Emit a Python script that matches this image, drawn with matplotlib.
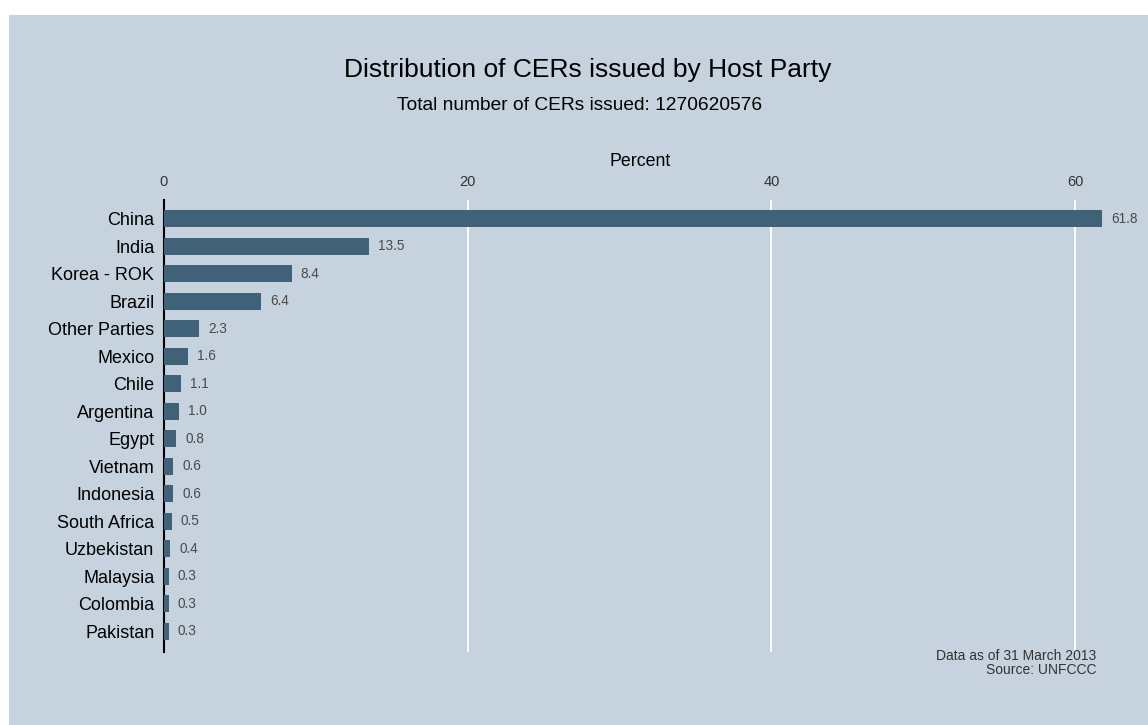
import numpy as np
import matplotlib
matplotlib.use("Agg")
from matplotlib import pyplot as plt

plt.rcParams['font.family'] = ['Liberation Sans', 'DejaVu Sans']

parties = ["China", "India", "Korea - ROK", "Brazil", "Other Parties", "Mexico",
           "Chile", "Argentina", "Egypt", "Vietnam", "Indonesia", "South Africa",
           "Uzbekistan", "Malaysia", "Colombia", "Pakistan"]
percent = [61.8, 13.5, 8.4, 6.4, 2.3, 1.6, 1.1, 1.0, 0.8, 0.6, 0.6, 0.5, 0.4, 0.3, 0.3, 0.3]
total_cers = 1270620576
x_ticks = [0, 20, 40, 60]

bg = "#c6d2de"
bar_color = "#3f6279"

fig = plt.figure(figsize=(11.48, 7.25), dpi=100)
fig.patch.set_facecolor("white")
# coloured panel behind everything
fig.patches.append(plt.Rectangle((9 / 1148, 0), 1, 1 - 15 / 725,
                                 transform=fig.transFigure, facecolor=bg,
                                 edgecolor="none", zorder=-1))

ax = fig.add_axes([164 / 1148, 1 - 652 / 725, (1116 - 164) / 1148, (652 - 200) / 725])
ax.set_facecolor(bg)

y = np.arange(len(parties))[::-1]
ax.barh(y, percent, height=0.62, color=bar_color, zorder=3)
for yi, v in zip(y, percent):
    ax.text(v + 0.6, yi, "{:.1f}".format(v), va="center", ha="left",
            fontsize=9.8, color="#4a4a4a")

ax.set_ylim(-0.76, len(parties) - 1 + 0.69)
ax.set_xlim(0, 62.7)
ax.set_yticks(y)
ax.set_yticklabels(parties, fontsize=13)
ax.set_xticks(x_ticks)
ax.xaxis.tick_top()
ax.xaxis.set_label_position("top")
ax.set_xlabel("Percent", fontsize=12.8, labelpad=6.5)
ax.tick_params(axis="x", length=0, labelsize=10.5, labelcolor="#333333", pad=8)
ax.tick_params(axis="y", length=0, pad=7)
ax.grid(axis="x", color="white", linewidth=1.3, zorder=0)
for s in ["top", "right", "bottom"]:
    ax.spines[s].set_visible(False)
ax.spines["left"].set_linewidth(1.5)

fig.text(588 / 1148, 1 - 70 / 725, "Distribution of CERs issued by Host Party",
         ha="center", va="center", fontsize=19)
fig.text(580 / 1148, 1 - 106 / 725, "Total number of CERs issued: {}".format(total_cers),
         ha="center", va="center", fontsize=13.8)
fig.text(1096 / 1148, 1 - 663 / 725, "Data as of 31 March 2013\nSource: UNFCCC",
         ha="right", va="center", fontsize=10, color="#333333", linespacing=1.05)

plt.savefig("out.png", dpi=100, facecolor=fig.get_facecolor())
